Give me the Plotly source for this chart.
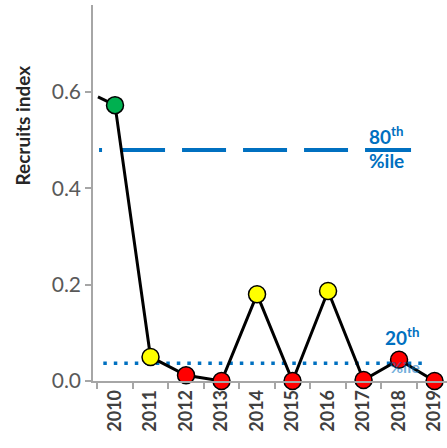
import plotly.graph_objects as go

years = [2010, 2011, 2012, 2013, 2014, 2015, 2016, 2017, 2018, 2019]
recruits = [0.573, 0.050, 0.012, 0.0, 0.180, 0.0, 0.187, 0.002, 0.044, 0.0]
status_colors = ["#00B050", "#FFFF00", "#FF0000", "#FF0000", "#FFFF00",
                 "#FF0000", "#FFFF00", "#FF0000", "#FF0000", "#FF0000"]
lead_in_years = [2009.52, 2010]
lead_in_values = [0.59, 0.573]
pct80_years = [2009.55, 2018.43]
pct80_values = [0.48, 0.48]
pct20_years = [2009.67, 2018.7]
pct20_values = [0.037, 0.037]
y_ticks = [0.0, 0.2, 0.4, 0.6]
y_labels = ["0.0", "0.2", "0.4", "0.6"]

BLUE = "#0070C0"
GRAY = "#595959"
FONT = "Lato"

fig = go.Figure()

fig.add_trace(go.Scatter(x=pct80_years, y=pct80_values, mode="lines",
                         line=dict(color=BLUE, width=4,
                                   dash="3px,19px,44px,17px,44px,17px,44px,17px,44px,17px,46px,20px"),
                         hoverinfo="skip", showlegend=False))
fig.add_trace(go.Scatter(x=pct20_years, y=pct20_values, mode="lines",
                         line=dict(color=BLUE, width=3.5, dash="3.5px,7px"),
                         hoverinfo="skip", showlegend=False))
fig.add_trace(go.Scatter(x=lead_in_years, y=lead_in_values, mode="lines",
                         line=dict(color="black", width=3),
                         hoverinfo="skip", showlegend=False))
fig.add_trace(go.Scatter(x=years, y=recruits, mode="lines+markers",
                         line=dict(color="black", width=3),
                         marker=dict(size=17, color=status_colors,
                                     line=dict(color="black", width=1.5)),
                         cliponaxis=False, showlegend=False))

fig.add_annotation(x=2017.1, y=0.48, xref="x", yref="y", text="<b>80<sup>th</sup></b>",
                   showarrow=False, xanchor="left", yanchor="bottom", yshift=0,
                   font=dict(family=FONT, size=19, color=BLUE))
fig.add_annotation(x=2017.1, y=0.48, xref="x", yref="y", text="<b>%ile</b>",
                   showarrow=False, xanchor="left", yanchor="top", yshift=3,
                   font=dict(family=FONT, size=19, color=BLUE))
fig.add_annotation(x=2017.55, y=0.037, xref="x", yref="y", text="<b>20<sup>th</sup></b>",
                   showarrow=False, xanchor="left", yanchor="bottom", yshift=12,
                   font=dict(family=FONT, size=19, color=BLUE))
fig.add_annotation(x=2017.7, y=0.037, xref="x", yref="y", text="<b>%ile</b>",
                   showarrow=False, xanchor="left", yanchor="middle", yshift=-3,
                   font=dict(family=FONT, size=16, color=BLUE), opacity=0.55)

fig.add_annotation(x=-0.2, y=0.68, xref="paper", yref="paper", text="<b>Recruits index</b>",
                   showarrow=False, textangle=-90, xanchor="center", yanchor="middle",
                   font=dict(family=FONT, size=19, color="#262626"))

fig.update_layout(
    width=447, height=448,
    margin=dict(l=93, r=0, t=5, b=67, autoexpand=False),
    paper_bgcolor="white", plot_bgcolor="white",
    font=dict(family=FONT, color=GRAY),
    xaxis=dict(range=[2009.38, 2019.35], tickvals=years,
               ticktext=[f"<b>{y}</b>" for y in years], automargin=False,
               tickangle=-90, ticks="", showgrid=False, zeroline=False,
               showline=True, linecolor="#A6A6A6", linewidth=1.5,
               tickfont=dict(family=FONT, size=18, color="#404040"),
               minor=dict(tick0=2009.5, dtick=1, ticks="outside", ticklen=6,
                          tickcolor="#A6A6A6", tickwidth=1.5, showgrid=False)),
    yaxis=dict(range=[0, 0.781], tickvals=y_ticks, ticktext=y_labels, automargin=False,
               ticks="outside", ticklen=6, tickcolor="#A6A6A6", tickwidth=1.5,
               showgrid=False, zeroline=False, showline=True,
               linecolor="#A6A6A6", linewidth=1.5,
               tickfont=dict(family=FONT, size=21, color=GRAY)),
)

fig.write_html("out.html", config={"displayModeBar": False},
               post_script="document.body.style.margin='0';")
